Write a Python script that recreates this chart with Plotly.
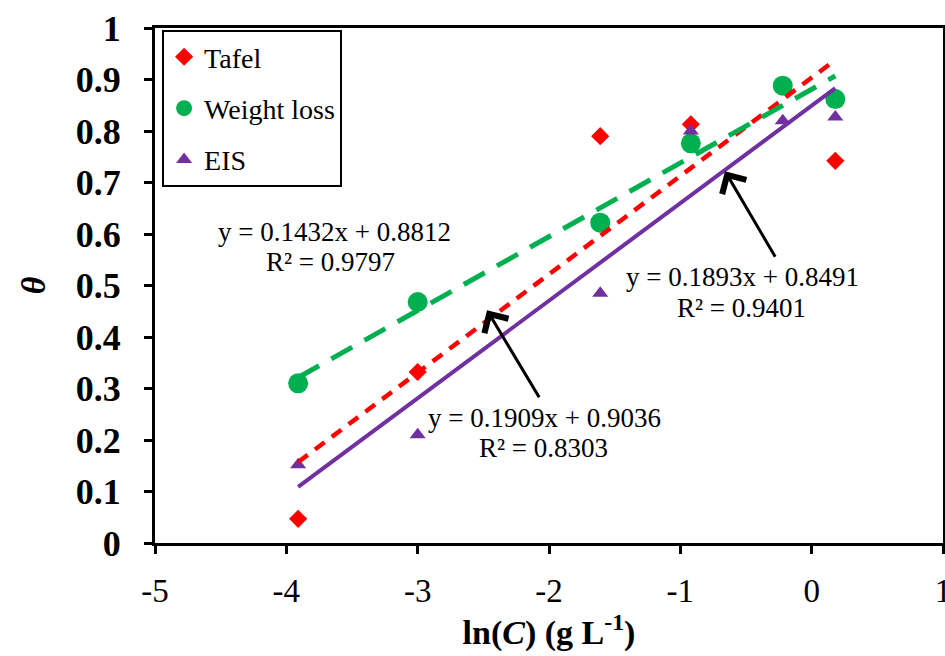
import plotly.graph_objects as go

# ---------------- data ----------------
ln_c = [-3.91, -3.00, -1.61, -0.92, -0.22, 0.18]
tafel = [0.047, 0.332, 0.790, 0.813, 0.888, 0.742]
weight_loss = [0.310, 0.468, 0.622, 0.776, 0.888, 0.862]
eis = [0.152, 0.210, 0.485, 0.800, 0.820, 0.827]

# linear trendlines (slope, intercept, R²) as printed on the chart
fit_tafel = (0.1909, 0.9036, 0.8303)
fit_wl = (0.1432, 0.8812, 0.9797)
fit_eis = (0.1893, 0.8491, 0.9401)

x_ticks = [-5, -4, -3, -2, -1, 0, 1]
y_ticks = [0, 0.1, 0.2, 0.3, 0.4, 0.5, 0.6, 0.7, 0.8, 0.9, 1]

RED = "#FF0000"
GREEN = "#00B050"
PURPLE = "#7030A0"
FONT = "Liberation Serif"

fig = go.Figure()

# marker series
fig.add_trace(go.Scatter(x=ln_c, y=tafel, mode="markers", name="Tafel",
                         legendgroup="a",
                         marker=dict(symbol="diamond", size=14, color=RED)))
fig.add_trace(go.Scatter(x=ln_c, y=weight_loss, mode="markers", name="Weight loss",
                         legendgroup="b",
                         marker=dict(symbol="circle", size=20, color=GREEN)))
fig.add_trace(go.Scatter(x=ln_c, y=eis, mode="markers", name="EIS",
                         legendgroup="c",
                         marker=dict(symbol="triangle-up", size=14, color=PURPLE)))


def trend(fit):
    xs = [min(ln_c), max(ln_c)]
    return xs, [fit[0] * v + fit[1] for v in xs]


tx, ty = trend(fit_tafel)
fig.add_trace(go.Scatter(x=tx, y=ty, mode="lines", showlegend=False, hoverinfo="skip",
                         legendgroup="a",
                         line=dict(color=RED, width=4.5, dash="12px,9px")))
tx, ty = trend(fit_wl)
fig.add_trace(go.Scatter(x=tx, y=ty, mode="lines", showlegend=False, hoverinfo="skip",
                         legendgroup="b",
                         line=dict(color=GREEN, width=5, dash="24px,14px")))
tx, ty = trend(fit_eis)
fig.add_trace(go.Scatter(x=tx, y=ty, mode="lines", showlegend=False, hoverinfo="skip",
                         legendgroup="c",
                         line=dict(color=PURPLE, width=4)))


def eq_text(fit):
    return f"y = {fit[0]:.4f}x + {fit[1]:.4f}", f"R² = {fit[2]:.4f}"


ann_font = dict(family=FONT, size=27, color="black")
annotations = []
for fit, (x1, y1), (x2, y2) in [
    (fit_wl, (-3.637, 0.604), (-3.667, 0.546)),
    (fit_tafel, (-2.038, 0.243), (-2.045, 0.185)),
    (fit_eis, (-0.530, 0.517), (-0.538, 0.456)),
]:
    l1, l2 = eq_text(fit)
    annotations.append(dict(x=x1, y=y1, xref="x", yref="y", text=l1, showarrow=False,
                            font=ann_font, xanchor="center", yanchor="middle"))
    annotations.append(dict(x=x2, y=y2, xref="x", yref="y", text=l2, showarrow=False,
                            font=ann_font, xanchor="center", yanchor="middle"))

# arrows (tip at x,y ; tail at ax,ay)
for (x, y, ax, ay) in [(-2.472, 0.452, -2.068, 0.280), (-0.660, 0.722, -0.271, 0.553)]:
    annotations.append(dict(x=x, y=y, ax=ax, ay=ay, xref="x", yref="y", axref="x", ayref="y",
                            text="", showarrow=True, arrowhead=4, arrowsize=1.8,
                            arrowwidth=3, arrowcolor="black", standoff=0, startstandoff=0))

fig.update_layout(
    width=945, height=656,
    margin=dict(l=155, r=2, t=28, b=113, autoexpand=False),
    paper_bgcolor="white", plot_bgcolor="white",
    font=dict(family=FONT, color="black"),
    showlegend=True,
    legend=dict(x=0.009, y=0.996, xanchor="left", yanchor="top",
                bgcolor="white", bordercolor="black", borderwidth=2,
                font=dict(family=FONT, size=28, color="black"),
                tracegroupgap=12, traceorder="grouped"),
    annotations=annotations,
)

fig.update_xaxes(
    range=[-5, 1], tickvals=x_ticks, ticktext=[str(v) for v in x_ticks],
    showgrid=False, zeroline=False, automargin=False,
    showline=True, linecolor="black", linewidth=3, mirror=True,
    ticks="outside", ticklen=8, tickwidth=3, tickcolor="black",
    tickfont=dict(family=FONT, size=33, color="black"), ticklabelstandoff=8,
    ticklabeloverflow="allow",
    title=dict(text="<b>ln(<i>C</i>) (g L<sup>-1</sup>)</b>",
               font=dict(family=FONT, size=34, color="black"), standoff=4),
)
fig.update_yaxes(
    range=[0, 1], tickvals=y_ticks, ticktext=[f"{v:g}" for v in y_ticks],
    showgrid=False, zeroline=False, automargin=False,
    showline=True, linecolor="black", linewidth=3, mirror=True,
    ticks="outside", ticklen=8, tickwidth=3, tickcolor="black",
    tickfont=dict(family=FONT, size=36, color="black", weight="bold"), ticklabelstandoff=16,
    title=dict(text="<b><i>θ</i></b>", font=dict(family=FONT, size=34, color="black"), standoff=20),
)

fig.write_html("out.html")
